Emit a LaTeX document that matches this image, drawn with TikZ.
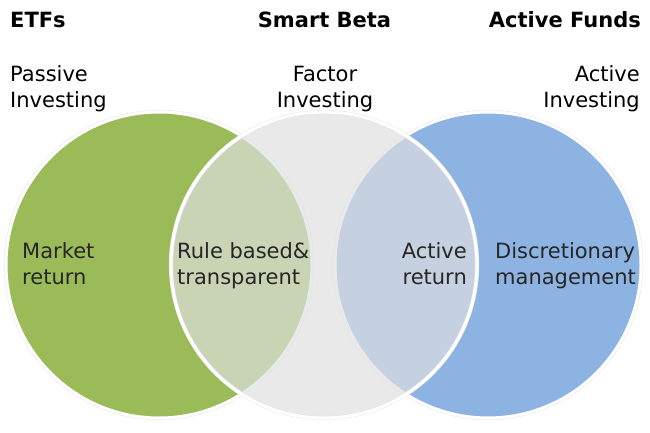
\documentclass[tikz,border=0pt]{standalone}
\usepackage{fontspec}
\setmainfont{DejaVu Sans}
\usepackage{xcolor}
\usepackage{tikz}
\usetikzlibrary{positioning}
\definecolor{etfgreen}{HTML}{9BBB59}
\definecolor{activeblue}{HTML}{8DB3E2}
\definecolor{betagray}{HTML}{E0E0E0}
\tikzset{
venn/.style={
circle,
minimum size=306pt,
inner sep=0pt,
draw=white,
line width=3pt,
preaction={draw=black!8,line width=4.2pt}
},
title/.style={
font=\fontsize{21}{25}\selectfont\bfseries,
inner sep=0pt
},
sublabel/.style={
font=\fontsize{21}{25}\selectfont,
inner sep=0pt
},
inlabel/.style={
font=\fontsize{21}{26}\selectfont,
inner sep=0pt,
text=black!85
}
}

\begin{document}
\begin{tikzpicture}[x=1pt,y=-1pt]
\useasboundingbox[fill=white](0,0) rectangle (650,433);

% circles
\node[venn,fill=etfgreen](etfc) at (159,265){};
\node[venn,fill=activeblue](actc) at (488,265){};
\node[venn,fill=betagray,fill opacity=0.68](betac) at (324,265){};

% headings
\node[title,anchor=base west](etfs) at (10,28){ETFs};
\node[title,anchor=base](beta) at (324.5,28){Smart Beta};
\node[title,anchor=base east](funds) at (641,28){Active Funds};

\node[sublabel,align=left,anchor=base west](passive) at (10,107){Passive\\Investing};
\node[sublabel,align=center,anchor=base](factor) at (325,107){Factor\\Investing};
\node[sublabel,align=right,anchor=base east](activeinv) at (640,107){Active\\Investing};

% labels inside
\node[inlabel,align=left,anchor=base west](market) at (22,284){Market\\return};
\node[inlabel,align=left,anchor=base west](rule) at (177,284){Rule based\&\\transparent};
\node[inlabel,align=right,anchor=base east](actret) at (467,284){Active\\return};
\node[inlabel,align=left,anchor=base west](discr) at (495,284){Discretionary\\management};
\end{tikzpicture}
\end{document}
